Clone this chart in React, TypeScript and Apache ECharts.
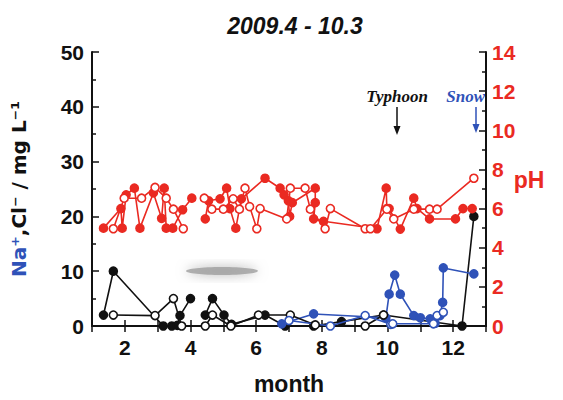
import React, { useEffect, useRef } from "react";
import * as echarts from "echarts";

// pH, filled red (segments)
const phFilledA = [[1.35, 5.0], [1.88, 6.0], [1.92, 5.0], [2.04, 6.7], [2.29, 7.04], [2.46, 5.0], [2.87, 6.8], [3.12, 5.5], [3.2, 7.04], [3.26, 5.0], [3.46, 5.0], [3.76, 5.94], [4.04, 6.53]];
const phFilledB = [[4.45, 5.47], [4.55, 6.4], [4.9, 6.5], [5.1, 7.04], [5.2, 6.0], [5.38, 5.0], [5.55, 6.5], [6.27, 7.55], [6.73, 7.04], [6.85, 6.7], [6.98, 6.4], [7.02, 5.6], [7.1, 6.3], [7.8, 7.04], [7.8, 6.3], [7.75, 5.47], [8.05, 5.35], [9.68, 4.97], [9.96, 7.04], [9.98, 6.0], [10.05, 6.0], [10.39, 4.95], [10.8, 6.53], [10.9, 6.0], [11.28, 5.47], [12.07, 5.47], [12.3, 6.0], [12.58, 6.0]];
// pH, open red (segments)
const phOpenA = [[1.65, 4.97], [1.98, 6.53], [2.51, 6.53], [2.92, 7.08], [3.26, 6.53], [3.48, 5.97], [3.78, 4.97]];
const phOpenB = [[4.42, 6.53], [4.65, 5.97], [5.0, 5.97], [5.3, 6.5], [5.49, 5.97], [5.66, 7.04], [5.8, 6.1], [6.02, 4.97], [6.12, 6.0], [6.93, 5.47], [7.04, 7.04], [7.49, 7.04], [7.65, 5.97], [8.1, 4.97], [8.26, 6.0], [9.32, 4.97], [9.48, 4.97], [9.98, 5.97], [10.19, 5.47], [10.8, 5.97], [11.28, 5.97], [11.51, 5.97], [12.63, 7.55]];
// concentration, black
const clFilledA = [[1.35, 2.0], [1.65, 10.0], [3.17, 0.0], [3.43, 0.0], [3.6, 0.1], [3.68, 1.9], [4.0, 5.0]];
const clFilledB = [[4.45, 2.0], [4.67, 5.0], [5.02, 2.0], [5.25, 0.3], [6.27, 2.0], [6.88, 0.0], [7.75, 0.0], [8.6, 0.8], [9.88, 2.0], [12.27, 0.0], [12.63, 20.0]];
const clOpenA = [[1.65, 2.0], [2.92, 1.9], [3.48, 5.0], [3.73, 0.0]];
const clOpenB = [[4.45, 0.0], [4.67, 2.0], [5.23, 0.0], [6.07, 2.0], [7.04, 2.0], [7.8, 0.2], [9.32, 0.0], [9.88, 2.0]];
// concentration, blue
const naFilled = [[6.78, 0.4], [7.75, 2.2], [9.95, 1.5], [10.05, 5.8], [10.22, 9.3], [10.39, 5.8], [10.8, 1.9], [11.0, 1.5], [11.3, 1.3], [11.45, 0.5], [11.6, 1.9], [11.68, 4.3], [11.7, 10.6], [12.63, 9.5]];
const naOpen = [[7.0, 1.0], [8.26, 0.0], [9.32, 1.9], [10.1, 0.3], [10.16, 0.4], [11.4, 0.4], [11.51, 1.9], [11.7, 2.5]];

const RED = "#ea2a22";
const BLACK = "#111111";
const BLUE = "#2f52b8";
const FONT = "'Liberation Sans', Arial, sans-serif";

function mk(data: number[][], color: string, open: boolean, yAxisIndex: number) {
  return {
    type: "line",
    data,
    yAxisIndex,
    symbol: "circle",
    symbolSize: 8,
    showSymbol: true,
    lineStyle: { color, width: 1.6 },
    itemStyle: { color: open ? "#ffffff" : color, borderColor: color, borderWidth: 1.6 },
    z: open ? 4 : 3,
  };
}

export default function App() {
  const ref = useRef<HTMLDivElement>(null);
  useEffect(() => {
    const chart = echarts.init(ref.current!, null, { renderer: "svg" });
    const tickStyle = { color: BLACK, width: 1.5 };
    const xCommon = {
      type: "value",
      min: 1,
      max: 13,
      interval: 1,
      splitLine: { show: false },
      axisLine: { show: true, lineStyle: { color: BLACK, width: 2 } },
      axisTick: { show: true, inside: true, length: 6, lineStyle: tickStyle },
    };
    chart.setOption({
      animation: false,
      backgroundColor: "#ffffff",
      grid: { left: 92, right: 77, top: 52, bottom: 73 },
      title: {
        text: "2009.4 - 10.3",
        left: 290,
        textAlign: "center",
        top: 9,
        textStyle: { fontFamily: FONT, fontSize: 23, fontWeight: "bold", fontStyle: "italic", color: BLACK },
      },
      xAxis: [
        {
          ...xCommon,
          position: "bottom",
          axisLabel: {
            formatter: (v: number) => (v % 2 === 0 ? String(v) : ""),
            fontFamily: FONT, fontSize: 21, fontWeight: "bold", color: BLACK, margin: 11,
          },
          name: "month",
          nameLocation: "middle",
          nameGap: 46,
          nameTextStyle: { fontFamily: FONT, fontSize: 23, fontWeight: "bold", color: BLACK },
        },
        { ...xCommon, position: "top", axisLabel: { show: false } },
      ],
      yAxis: [
        {
          type: "value",
          min: 0,
          max: 50,
          interval: 10,
          position: "left",
          splitLine: { show: false },
          axisLine: { show: true, lineStyle: { color: BLACK, width: 2 } },
          axisTick: { show: true, inside: true, length: 7, lineStyle: tickStyle },
          minorTick: { show: true, splitNumber: 2, length: 4, lineStyle: tickStyle },
          axisLabel: { fontFamily: FONT, fontSize: 21, fontWeight: "bold", color: BLACK, margin: 8 },
          name: "{b|Na⁺}{k|,Cl⁻ / mg L⁻¹}",
          nameLocation: "middle",
          nameRotate: 90,
          nameGap: 63,
          nameTextStyle: {
            rich: {
              b: { fontFamily: "'DejaVu Sans', sans-serif", fontSize: 20, fontWeight: "bold", color: BLUE },
              k: { fontFamily: "'DejaVu Sans', sans-serif", fontSize: 20, fontWeight: "bold", color: BLACK },
            },
          },
        },
        {
          type: "value",
          min: 0,
          max: 14,
          interval: 2,
          position: "right",
          splitLine: { show: false },
          axisLine: { show: true, lineStyle: { color: BLACK, width: 2 } },
          axisTick: { show: true, inside: true, length: 7, lineStyle: tickStyle },
          minorTick: { show: true, splitNumber: 2, length: 4, lineStyle: tickStyle },
          axisLabel: { fontFamily: FONT, fontSize: 21, fontWeight: "bold", color: RED, margin: 6 },
        },
      ],
      graphic: [
        {
          type: "ellipse",
          shape: { cx: 222, cy: 271, rx: 36, ry: 4 },
          style: { fill: "#9a9a9a", opacity: 0.75, shadowBlur: 12, shadowColor: "#9a9a9a" },
          silent: true,
        },
        {
          type: "text",
          x: 529,
          y: 180,
          style: { text: "pH", fontFamily: FONT, fontSize: 23, fontWeight: "bold", fill: RED, align: "center", verticalAlign: "middle" },
        },
        {
          type: "text",
          x: 397,
          y: 96,
          style: { text: "Typhoon", fontFamily: "'Liberation Serif', serif", fontSize: 17, fontWeight: "bold", fontStyle: "italic", fill: BLACK, align: "center", verticalAlign: "middle" },
        },
        { type: "line", shape: { x1: 397, y1: 107, x2: 397, y2: 128 }, style: { stroke: BLACK, lineWidth: 1.5 } },
        { type: "polygon", shape: { points: [[393.5, 126], [400.5, 126], [397, 135]] }, style: { fill: BLACK } },
        {
          type: "text",
          x: 485,
          y: 96,
          style: { text: "Snow", fontFamily: "'Liberation Serif', serif", fontSize: 17, fontWeight: "bold", fontStyle: "italic", fill: BLUE, align: "right", verticalAlign: "middle" },
        },
        { type: "line", shape: { x1: 476, y1: 107, x2: 476, y2: 126 }, style: { stroke: BLUE, lineWidth: 1.5 } },
        { type: "polygon", shape: { points: [[472.5, 124], [479.5, 124], [476, 133]] }, style: { fill: BLUE } },
      ],
      series: [
        mk(clFilledA, BLACK, false, 0),
        mk(clFilledB, BLACK, false, 0),
        mk(clOpenA, BLACK, true, 0),
        mk(clOpenB, BLACK, true, 0),
        mk(naFilled, BLUE, false, 0),
        mk(naOpen, BLUE, true, 0),
        mk(phFilledA, RED, false, 1),
        mk(phFilledB, RED, false, 1),
        mk(phOpenA, RED, true, 1),
        mk(phOpenB, RED, true, 1),
      ],
    });
    return () => chart.dispose();
  }, []);
  return <div ref={ref} style={{ position: "absolute", left: 0, top: 0, width: 563, height: 400 }} />;
}
